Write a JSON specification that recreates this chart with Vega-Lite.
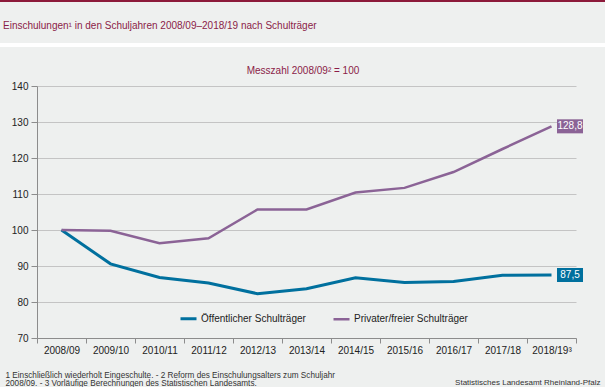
{
  "$schema": "https://vega.github.io/schema/vega-lite/v6.json",
  "background": "#eef0ef",
  "padding": 0,
  "autosize": {"type": "pad"},
  "spacing": 0,
  "bounds": "full",
  "config": {
    "view": {"stroke": null},
    "font": "Liberation Sans",
    "locale": {"number": {"decimal": ",", "thousands": ".", "grouping": [3], "currency": ["", " €"]}}
  },
  "datasets": {
    "series": [
      {"year": "2008/09", "series": "Öffentlicher Schulträger", "value": 100},
      {"year": "2009/10", "series": "Öffentlicher Schulträger", "value": 90.6},
      {"year": "2010/11", "series": "Öffentlicher Schulträger", "value": 86.8},
      {"year": "2011/12", "series": "Öffentlicher Schulträger", "value": 85.3},
      {"year": "2012/13", "series": "Öffentlicher Schulträger", "value": 82.3},
      {"year": "2013/14", "series": "Öffentlicher Schulträger", "value": 83.7},
      {"year": "2014/15", "series": "Öffentlicher Schulträger", "value": 86.7},
      {"year": "2015/16", "series": "Öffentlicher Schulträger", "value": 85.4},
      {"year": "2016/17", "series": "Öffentlicher Schulträger", "value": 85.7},
      {"year": "2017/18", "series": "Öffentlicher Schulträger", "value": 87.4},
      {"year": "2018/19", "series": "Öffentlicher Schulträger", "value": 87.5},
      {"year": "2008/09", "series": "Privater/freier Schulträger", "value": 100},
      {"year": "2009/10", "series": "Privater/freier Schulträger", "value": 99.8},
      {"year": "2010/11", "series": "Privater/freier Schulträger", "value": 96.3},
      {"year": "2011/12", "series": "Privater/freier Schulträger", "value": 97.7},
      {"year": "2012/13", "series": "Privater/freier Schulträger", "value": 105.7},
      {"year": "2013/14", "series": "Privater/freier Schulträger", "value": 105.7},
      {"year": "2014/15", "series": "Privater/freier Schulträger", "value": 110.4},
      {"year": "2015/16", "series": "Privater/freier Schulträger", "value": 111.7},
      {"year": "2016/17", "series": "Privater/freier Schulträger", "value": 116.1},
      {"year": "2017/18", "series": "Privater/freier Schulträger", "value": 122.5},
      {"year": "2018/19", "series": "Privater/freier Schulträger", "value": 128.8}
    ]
  },
  "vconcat": [
    {
      "width": 605, "height": 2,
      "view": {"fill": "#8c1a3a", "stroke": null},
      "data": {"values": [{}]},
      "mark": {"type": "rect", "color": "#8c1a3a"},
      "title": {
        "text": "Einschulungen¹ in den Schuljahren 2008/09–2018/19 nach Schulträger",
        "orient": "bottom", "anchor": "start", "frame": "group",
        "offset": 18.5, "dx": 3, "fontSize": 10, "fontWeight": "normal",
        "color": "#8b1c48", "baseline": "top"
      }
    },
    {
      "width": 605, "height": 11.5,
      "data": {"values": [{}]},
      "mark": {"type": "rect", "opacity": 0}
    },
    {
      "width": 605, "height": 4,
      "view": {"fill": "#ffffff", "stroke": null},
      "data": {"values": [{}]},
      "mark": {"type": "rect", "color": "#ffffff"}
    },
    {
      "width": 605, "height": 17.5,
      "data": {"values": [{}]},
      "mark": {"type": "rect", "opacity": 0}
    },
    {
      "spacing": 0,
      "bounds": "flush",
      "hconcat": [
        {
          "width": 37, "height": 1,
          "data": {"values": [{}]},
          "mark": {"type": "rect", "opacity": 0}
        },
        {
          "width": 539, "height": 252,
          "data": {"name": "series"},
          "title": {
            "text": "Statistisches Landesamt Rheinland-Pfalz",
            "orient": "bottom", "anchor": "end", "frame": "group",
            "offset": -8, "dx": 24.5, "fontSize": 8, "fontWeight": "normal", "color": "#333333"
          },
          "layer": [
            {
              "mark": {"type": "line"},
              "encoding": {
                "x": {
                  "field": "year", "type": "ordinal",
                  "scale": {"type": "band", "paddingInner": 0, "paddingOuter": 0},
                  "axis": {
                    "title": ["1 Einschließlich wiederholt  Eingeschulte. - 2 Reform des Einschulungsalters zum Schuljahr", "2008/09. - 3 Vorläufige Berechnungen des Statistischen Landesamts."],
                    "titleX": -32, "titleY": 33, "titleAlign": "left", "titleBaseline": "top", "titleAnchor": "start",
                    "titleFontSize": 8.2, "titleFontWeight": "normal", "titleColor": "#333333", "titleLineHeight": 8.5,
                    "labelAngle": 0, "labelFontSize": 10, "labelColor": "#222222", "labelPadding": 2,
                    "tickBand": "extent", "tickSize": 5, "tickColor": "#8c8c8c", "domainColor": "#8c8c8c", "grid": false,
                    "labelExpr": "datum.value == '2018/19' ? '2018/19³' : datum.value"
                  }
                },
                "y": {
                  "field": "value", "type": "quantitative",
                  "scale": {"domain": [70, 140], "nice": false, "zero": false},
                  "axis": {
                    "values": [70, 80, 90, 100, 110, 120, 130, 140],
                    "tickCount": 8, "labelOverlap": false,
                    "title": "Messzahl 2008/09² = 100",
                    "titleAngle": 0, "titleX": 265.5, "titleY": -13, "titleAlign": "center", "titleBaseline": "alphabetic",
                    "titleFontSize": 10, "titleFontWeight": "normal", "titleColor": "#8b1c48",
                    "labelFontSize": 10, "labelColor": "#222222", "labelPadding": 3,
                    "tickSize": 6, "tickColor": "#8c8c8c", "domainColor": "#8c8c8c", "gridColor": "#c4c4c4"
                  }
                },
                "color": {
                  "field": "series", "type": "nominal",
                  "scale": {"domain": ["Öffentlicher Schulträger", "Privater/freier Schulträger"], "range": ["#00709e", "#8b6396"]},
                  "legend": {
                    "title": null, "orient": "none", "direction": "horizontal", "legendX": 179, "legendY": 309,
                    "symbolType": "stroke", "symbolSize": 256, "symbolStrokeWidth": 3,
                    "labelFontSize": 10, "labelColor": "#222222", "labelOffset": 3, "columnPadding": 22, "padding": 0
                  }
                },
                "strokeWidth": {
                  "field": "series", "type": "ordinal",
                  "scale": {"domain": ["Öffentlicher Schulträger", "Privater/freier Schulträger"], "range": [3, 2.5]},
                  "legend": null
                }
              }
            },
            {
              "transform": [{"filter": "datum.year == '2018/19'"}],
              "mark": {"type": "point", "shape": "M-1,-0.54H1V0.54H-1Z", "size": 676, "filled": true, "opacity": 1, "strokeWidth": 0, "xOffset": 18.5},
              "encoding": {
                "x": {"field": "year", "type": "ordinal"},
                "y": {"field": "value", "type": "quantitative"},
                "fill": {
                  "field": "series", "type": "nominal",
                  "scale": {"domain": ["Öffentlicher Schulträger", "Privater/freier Schulträger"], "range": ["#00709e", "#8b6396"]},
                  "legend": null
                }
              }
            },
            {
              "transform": [{"filter": "datum.year == '2018/19'"}],
              "mark": {"type": "text", "color": "#ffffff", "fontSize": 10, "xOffset": 18.5, "baseline": "middle", "align": "center"},
              "encoding": {
                "x": {"field": "year", "type": "ordinal"},
                "y": {"field": "value", "type": "quantitative"},
                "text": {"field": "value", "type": "quantitative", "format": ".1f"}
              }
            }
          ]
        }
      ]
    }
  ]
}
